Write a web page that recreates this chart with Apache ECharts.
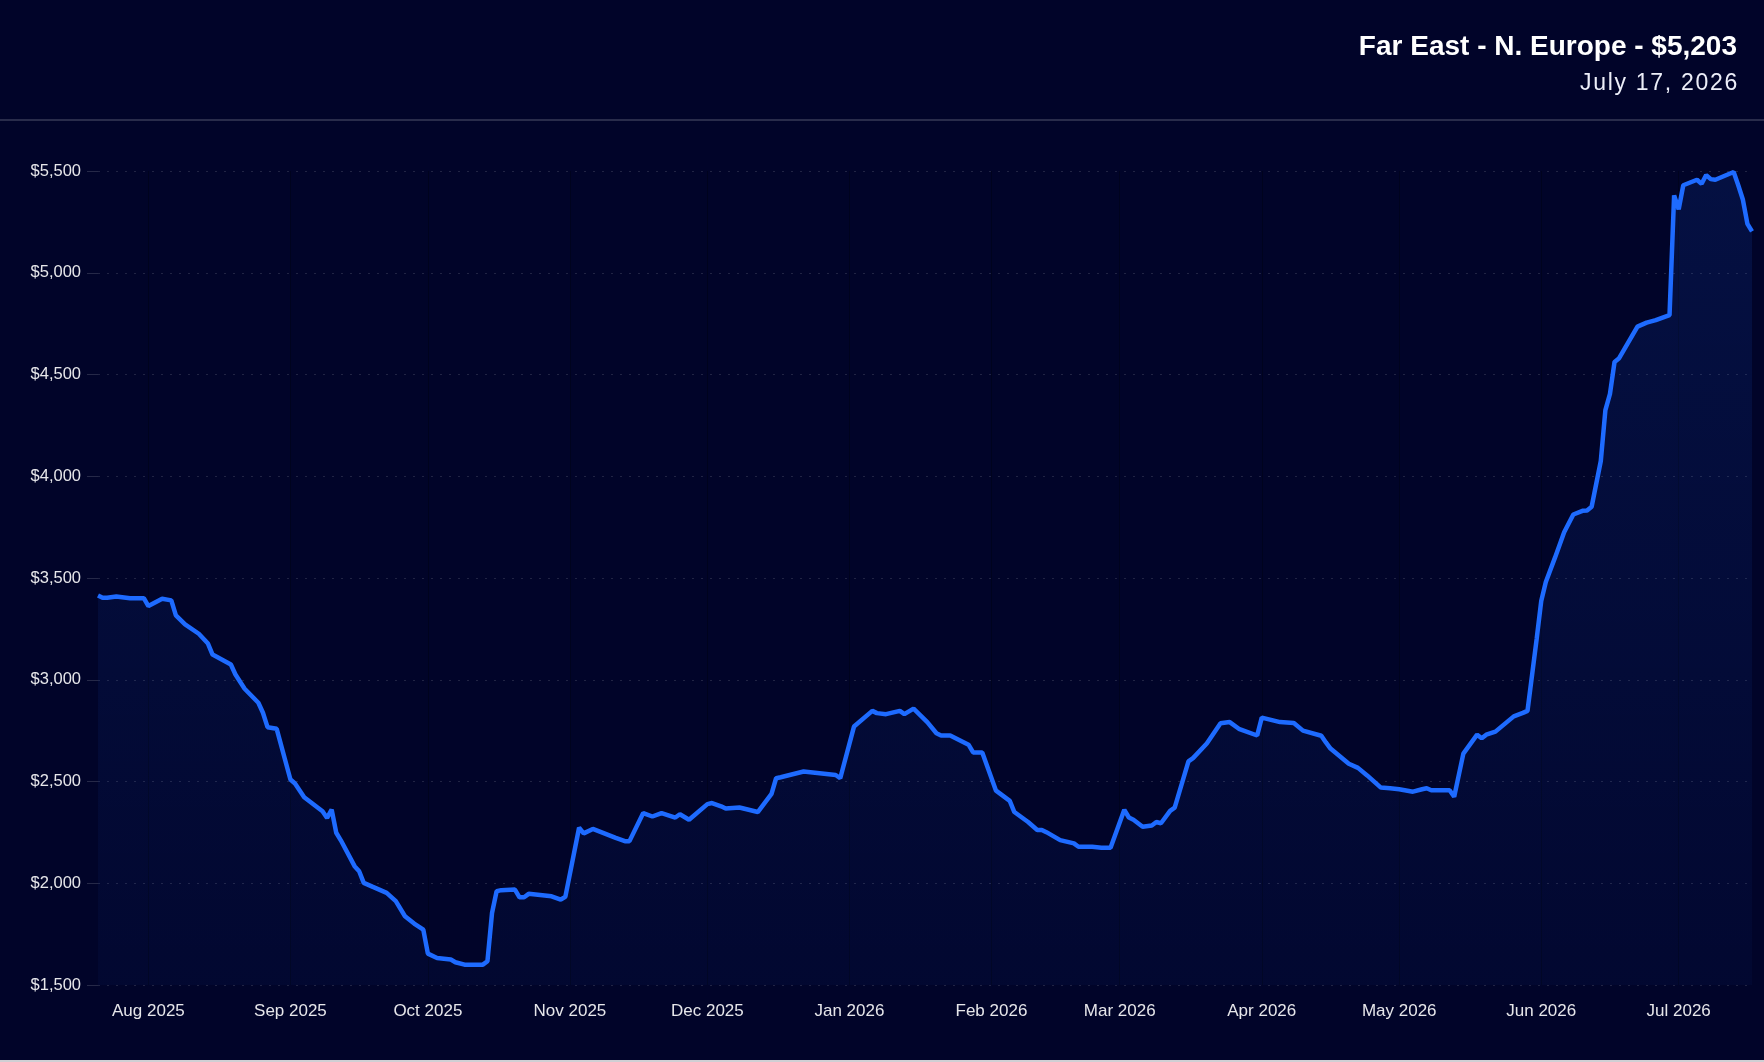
<!DOCTYPE html>
<html>
<head>
<meta charset="utf-8">
<title>Far East - N. Europe</title>
<script src="https://cdn.jsdelivr.net/npm/echarts@6/dist/echarts.min.js"></script>
<style>
  html, body { margin: 0; padding: 0; background: #cfcfd4; }
  #wrap { position: relative; width: 1764px; height: 1060px; }
  #chart { width: 1764px; height: 1060px; }
  #date {
    position: absolute; right: 25px; top: 71px;
    font-family: 'Liberation Sans', Arial, sans-serif;
    font-size: 23px; line-height: 23px; letter-spacing: 1.7px;
    color: #eceef8;
  }
</style>
</head>
<body>
<div id="wrap">
  <div id="chart"></div>
  <div id="date">July 17, 2026</div>
</div>
<script>
// route rate, USD per 40ft
var titleText = 'Far East - N. Europe - $5,203';

var priceDates = [
    '2025-07-21','2025-07-22','2025-07-23','2025-07-25','2025-07-28','2025-07-31',
    '2025-08-01','2025-08-04','2025-08-06','2025-08-07','2025-08-09','2025-08-12','2025-08-14','2025-08-15',
    '2025-08-19','2025-08-20','2025-08-22','2025-08-25','2025-08-26','2025-08-27','2025-08-29',
    '2025-09-01','2025-09-02','2025-09-04','2025-09-08','2025-09-09','2025-09-10','2025-09-11','2025-09-12',
    '2025-09-15','2025-09-16','2025-09-17','2025-09-19','2025-09-22','2025-09-24','2025-09-26','2025-09-28','2025-09-30',
    '2025-10-01','2025-10-03','2025-10-06','2025-10-07','2025-10-09','2025-10-13','2025-10-14','2025-10-15',
    '2025-10-16','2025-10-17','2025-10-20','2025-10-21','2025-10-22','2025-10-23','2025-10-28','2025-10-30','2025-10-31',
    '2025-11-03','2025-11-04','2025-11-06','2025-11-11','2025-11-13','2025-11-14','2025-11-17','2025-11-19',
    '2025-11-21','2025-11-24','2025-11-25','2025-11-27',
    '2025-12-01','2025-12-02','2025-12-04','2025-12-05','2025-12-08','2025-12-10','2025-12-12','2025-12-15',
    '2025-12-16','2025-12-17','2025-12-22','2025-12-29','2025-12-30',
    '2026-01-02','2026-01-06','2026-01-07','2026-01-09','2026-01-12','2026-01-13','2026-01-15','2026-01-18',
    '2026-01-20','2026-01-21','2026-01-23','2026-01-27','2026-01-28','2026-01-30',
    '2026-02-02','2026-02-05','2026-02-06','2026-02-09','2026-02-11','2026-02-12','2026-02-13','2026-02-16',
    '2026-02-19','2026-02-20','2026-02-23','2026-02-25','2026-02-27',
    '2026-03-02','2026-03-03','2026-03-04','2026-03-06','2026-03-08','2026-03-09','2026-03-10','2026-03-12',
    '2026-03-13','2026-03-16','2026-03-17','2026-03-20','2026-03-23','2026-03-25','2026-03-27','2026-03-31',
    '2026-04-01','2026-04-05','2026-04-08','2026-04-10','2026-04-14','2026-04-15','2026-04-16','2026-04-20',
    '2026-04-22','2026-04-24','2026-04-27','2026-04-29',
    '2026-05-01','2026-05-04','2026-05-06','2026-05-07','2026-05-08','2026-05-12','2026-05-13','2026-05-15',
    '2026-05-18','2026-05-19','2026-05-20','2026-05-22','2026-05-26','2026-05-28','2026-05-29','2026-05-31',
    '2026-06-01','2026-06-02','2026-06-04','2026-06-06','2026-06-08','2026-06-10','2026-06-11','2026-06-12',
    '2026-06-14','2026-06-15','2026-06-16','2026-06-17','2026-06-18','2026-06-22','2026-06-24','2026-06-26',
    '2026-06-29','2026-06-30',
    '2026-07-01','2026-07-02','2026-07-05','2026-07-06','2026-07-07','2026-07-08','2026-07-09','2026-07-13',
    '2026-07-14','2026-07-15','2026-07-16','2026-07-17'
];

var priceValues = [
    3414,3403,3403,3409,3401,3401,
    3362,3398,3390,3316,3272,3226,3178,3124,
    3075,3026,2956,2887,2838,2767,2759,
    2510,2490,2423,2354,2321,2362,2248,2211,
    2084,2059,2002,1982,1953,1912,1838,1802,1772,
    1654,1633,1625,1612,1600,1600,1617,1854,
    1961,1966,1969,1931,1931,1948,1936,1920,1933,
    2273,2245,2267,2223,2207,2207,2345,2328,
    2345,2323,2339,2312,
    2389,2394,2378,2367,2372,2361,2350,2439,
    2516,2521,2549,2532,2516,
    2770,2847,2836,2831,2847,2831,2858,2792,
    2737,2726,2726,2681,2643,2643,
    2455,2405,2350,2301,2262,2262,2251,2212,
    2196,2179,2179,2174,2174,
    2361,2323,2312,2278,2284,2301,2295,2356,
    2372,2599,2615,2687,2786,2792,2759,2726,
    2814,2792,2787,2750,2725,2692,2662,2587,
    2567,2530,2470,2467,
    2462,2450,2462,2467,2457,2457,2425,2637,
    2730,2712,2730,2745,2820,2837,2847,3200,
    3387,3480,3600,3725,3812,3830,3832,3850,
    4075,4325,4405,4562,4580,4735,4755,4767,
    4792,5380,
    5312,5430,5457,5437,5480,5460,5457,5495,
    5430,5360,5240,5203
];

// month ticks shown under the axis
var monthTicks = [
    '2025-08-01','2025-09-01','2025-10-01','2025-11-01','2025-12-01','2026-01-01',
    '2026-02-01','2026-03-01','2026-04-01','2026-05-01','2026-06-01','2026-07-01'
];

var yMin = 1500, yMax = 5500, yStep = 500;

function toTime(s) {
    var p = s.split('-');
    return new Date(+p[0], +p[1] - 1, +p[2]).getTime();
}

function money(v) {
    return '$' + String(v).replace(/\B(?=(\d{3})+(?!\d))/g, ',');
}

var seriesData = [];
for (var i = 0; i < priceDates.length; i++) {
    seriesData.push([toTime(priceDates[i]), priceValues[i]]);
}
var tickTimes = monthTicks.map(toTime);
var monthNames = ['Jan','Feb','Mar','Apr','May','Jun','Jul','Aug','Sep','Oct','Nov','Dec'];

var fontFamily = "'Liberation Sans', Arial, sans-serif";
var chart = echarts.init(document.getElementById('chart'));

var option = {
    backgroundColor: '#010429',
    animation: false,
    title: {
        text: titleText,
        right: 27,
        top: 33,
        padding: 0,
        textStyle: {
            color: '#ffffff',
            fontSize: 28,
            fontWeight: 'bold',
            fontFamily: fontFamily
        }
    },
    graphic: [{
        type: 'rect',
        shape: {x: 0, y: 119, width: 1764, height: 2},
        style: {fill: 'rgba(255,255,255,0.16)'},
        silent: true
    }],
    grid: {
        left: 98,
        right: 12,
        top: 171,
        bottom: 75
    },
    xAxis: {
        // timestamps on a value scale so month ticks can be placed exactly
        type: 'value',
        min: toTime(priceDates[0]),
        max: toTime(priceDates[priceDates.length - 1]),
        axisLine: {show: false},
        axisTick: {show: false, customValues: tickTimes},
        splitLine: {
            show: true,
            lineStyle: {color: 'rgba(0,0,0,0.25)', width: 1}
        },
        axisLabel: {
            customValues: tickTimes,
            color: 'rgba(255,255,255,0.9)',
            fontSize: 17,
            fontFamily: fontFamily,
            margin: 18,
            formatter: function (val) {
                var d = new Date(val);
                return monthNames[d.getMonth()] + ' ' + d.getFullYear();
            }
        }
    },
    yAxis: {
        type: 'value',
        min: yMin,
        max: yMax,
        interval: yStep,
        axisLine: {show: false},
        axisTick: {
            show: true,
            length: 11,
            lineStyle: {color: 'rgba(255,255,255,0.15)'}
        },
        splitLine: {
            lineStyle: {color: 'rgba(255,255,255,0.13)', type: [2, 7], width: 1}
        },
        axisLabel: {
            color: 'rgba(255,255,255,0.9)',
            fontSize: 16.5,
            fontFamily: fontFamily,
            margin: 17,
            formatter: money
        }
    },
    series: [{
        name: 'Far East - N. Europe',
        type: 'line',
        data: seriesData,
        showSymbol: false,
        smooth: false,
        lineStyle: {color: '#1e6bff', width: 4.5},
        itemStyle: {color: '#1e6bff'},
        areaStyle: {
            color: new echarts.graphic.LinearGradient(0, 0, 0, 1, [
                {offset: 0, color: 'rgba(30,107,255,0.17)'},
                {offset: 1, color: 'rgba(30,107,255,0.05)'}
            ])
        }
    }]
};

chart.setOption(option);
</script>
</body>
</html>
